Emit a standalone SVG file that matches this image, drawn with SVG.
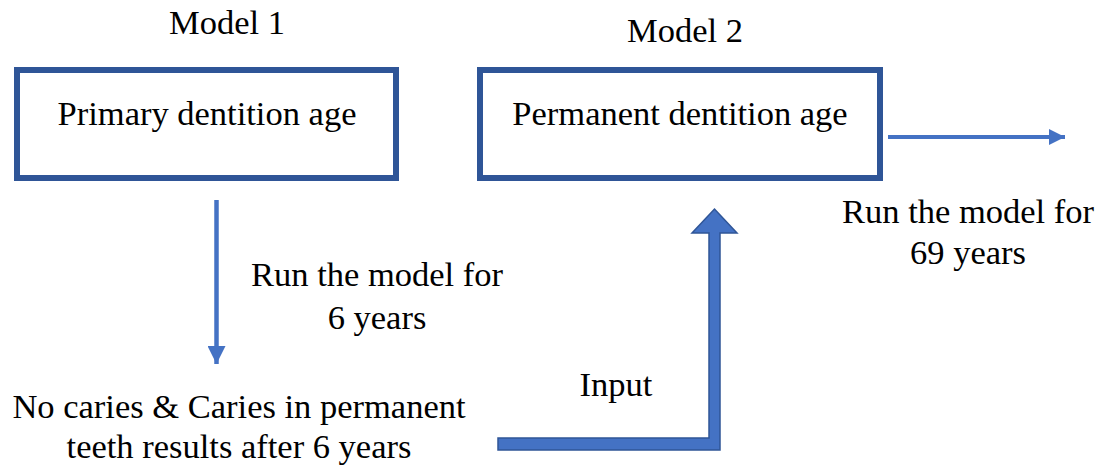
<svg xmlns="http://www.w3.org/2000/svg" width="1106" height="467" viewBox="0 0 1106 467">
  <style>
    text { font-family: "Liberation Serif", "DejaVu Serif", serif; font-size: 34.5px; fill: #000; text-anchor: middle; }
    .box { fill: #fff; stroke: #2F5597; stroke-width: 6; }
    .thin { stroke: #4472C4; fill: none; }
  </style>
  <defs>
    <marker id="head" viewBox="0 0 10 10" refX="10" refY="5" markerWidth="4" markerHeight="4" markerUnits="strokeWidth" orient="auto">
      <path d="M0,0 L10,5 L0,10 Z" fill="#4472C4"/>
    </marker>
  </defs>
  <rect width="1106" height="467" fill="#fff"/>

  <!-- model headings -->
  <text x="227" y="34">Model 1</text>
  <text x="685" y="42">Model 2</text>

  <g id="primary">
    <rect class="box" x="17" y="70" width="379" height="108"/>
    <text x="207" y="125">Primary dentition age</text>
  </g>

  <g id="permanent">
    <rect class="box" x="480" y="70" width="400" height="108"/>
    <text x="680" y="125">Permanent dentition age</text>
  </g>

  <g id="result">
    <text x="239" y="418">No caries &amp; Caries in permanent</text>
    <text x="239" y="458">teeth results after 6 years</text>
  </g>

  <g id="connectors">
    <!-- 6-year run -->
    <line class="thin" x1="216.5" y1="200" x2="216.5" y2="364" stroke-width="4.5" marker-end="url(#head)"/>
    <text x="377" y="286">Run the model for</text>
    <text x="377" y="329">6 years</text>

    <!-- 69-year run -->
    <line class="thin" x1="888" y1="137" x2="1065" y2="137" stroke-width="4" marker-end="url(#head)"/>
    <text x="968" y="223">Run the model for</text>
    <text x="968" y="264">69 years</text>

    <!-- input block arrow -->
    <path d="M498,438 L709,438 L709,233 L692,233 L714.5,209 L737,233 L720,233 L720,450 L498,450 Z" fill="#4472C4" stroke="#2F5597" stroke-width="1.5" stroke-linejoin="miter"/>
    <text x="616" y="396">Input</text>
  </g>
</svg>
